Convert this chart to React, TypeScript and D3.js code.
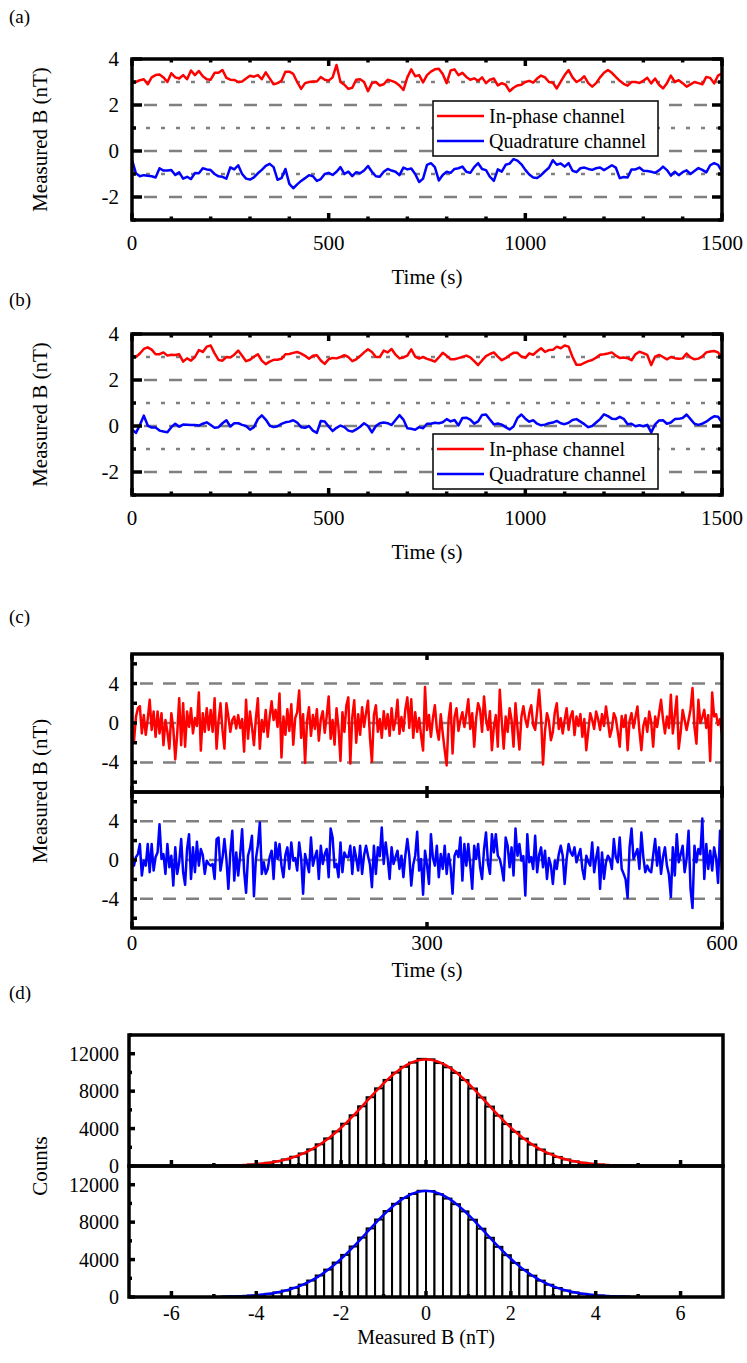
import React, { useEffect, useRef } from "react";
import * as d3 from "d3";

const WIDTH = 747;
const HEIGHT = 1363;
const FONT = "Liberation Serif, Times New Roman, serif";
const RED = "#ff0000";
const BLUE = "#0000ff";
const GRID = "#808080";

// (a) and (b): one reading every 10 s, 0..1500 s
const slowStep = 10;
const aInPhase = [
  2.94, 3.0, 3.08, 3.12, 2.9, 3.2, 3.3, 3.33, 3.2, 3.0,
  3.38, 3.2, 3.15, 3.3, 3.12, 3.5, 3.3, 3.48, 3.25, 3.12,
  3.1, 3.4, 3.4, 3.52, 3.18, 3.1, 3.09, 3.0, 3.02, 3.15,
  3.27, 3.23, 3.3, 3.12, 3.42, 3.16, 2.9, 2.95, 3.05, 3.45,
  3.45, 3.35, 3.0, 2.7, 2.95, 3.0, 3.02, 3.02, 3.22, 3.1,
  3.06, 3.2, 3.74, 3.0, 2.88, 2.7, 2.75, 3.1, 3.12, 3.0,
  2.6, 2.95, 3.0, 2.85, 2.9, 3.1, 3.05, 2.98, 2.85, 2.65,
  3.2, 3.55, 3.25, 3.3, 2.98, 3.3, 3.45, 3.55, 3.58, 3.35,
  2.95, 3.5, 3.55, 3.3, 3.4, 3.22, 3.1, 3.16, 3.05, 3.2,
  2.95, 3.1, 3.15, 2.85, 2.95, 2.88, 2.6, 2.75, 2.85, 2.88,
  3.0, 3.05, 2.97, 3.15, 3.28, 3.2, 3.0, 2.97, 2.72, 3.02,
  3.3, 3.52, 3.2, 3.0, 3.09, 3.25, 2.95, 2.8, 2.95, 3.2,
  3.4, 3.52, 3.4, 3.22, 3.05, 2.92, 2.84, 3.0, 3.0, 2.96,
  3.05, 3.18, 2.94, 3.15, 2.88, 2.72, 2.95, 3.28, 3.0, 3.08,
  2.95, 2.8, 2.9, 3.0, 2.95, 2.9, 3.22, 3.18, 2.94, 3.28,
  3.38,
];
const aQuadrature = [
  -0.39, -0.97, -1.1, -1.05, -1.08, -1.1, -1.15, -0.75, -0.85, -0.85,
  -0.83, -1.04, -0.93, -1.2, -1.12, -1.22, -0.96, -0.97, -0.75, -0.8,
  -0.83, -1.0, -1.1, -1.12, -1.2, -0.71, -0.8, -0.62, -1.0, -1.2,
  -1.24, -1.15, -0.97, -0.82, -0.65, -0.56, -0.7, -1.25, -1.18, -0.78,
  -1.43, -1.62, -1.45, -1.3, -1.18, -1.05, -1.1, -1.3, -1.22, -1.0,
  -0.95, -1.04, -0.9, -0.7, -1.0, -0.9, -1.09, -0.92, -0.97, -0.85,
  -0.65, -0.9, -1.1, -1.12, -0.9, -0.78, -0.85, -0.9, -1.05, -0.72,
  -0.8, -0.76, -1.0, -1.35, -1.2, -0.6, -0.53, -0.7, -1.28, -1.04,
  -0.9, -0.95, -0.78, -0.75, -0.68, -0.9, -0.95, -0.7, -0.53, -0.78,
  -0.83, -1.12, -1.3, -0.8, -0.9, -0.6, -0.55, -0.35, -0.42, -0.58,
  -0.82, -1.02, -1.15, -1.17, -1.05, -0.88, -0.73, -0.4, -0.6, -0.54,
  -0.68, -0.53, -0.86, -0.92, -0.75, -0.72, -0.78, -0.82, -0.75, -0.72,
  -0.83, -0.73, -0.62, -0.72, -1.18, -1.13, -1.15, -0.8, -0.8, -0.72,
  -0.86, -0.87, -0.9, -0.95, -0.84, -0.68, -0.83, -1.07, -0.9, -1.05,
  -0.92, -0.84, -1.0, -0.87, -0.74, -0.82, -0.93, -0.62, -0.53, -0.6,
  -0.9,
];
const bInPhase = [
  3.05, 3.0, 3.15, 3.35, 3.42, 3.32, 3.12, 3.12, 3.2, 3.06,
  3.1, 3.09, 3.12, 2.8, 2.94, 2.84, 3.0, 3.3, 3.22, 3.45,
  3.5, 3.16, 2.87, 2.84, 3.0, 2.98, 3.1, 3.28, 3.05, 2.82,
  2.88, 3.01, 3.12, 2.84, 2.69, 2.8, 2.88, 2.88, 2.92, 3.12,
  3.13, 3.18, 3.22, 3.15, 3.05, 2.92, 3.05, 3.08, 2.85, 2.7,
  2.9, 2.96, 2.94, 3.0, 3.08, 3.0, 2.82, 2.9, 3.04, 3.2,
  3.34, 3.22, 3.0, 3.0, 3.28, 3.2, 3.35, 3.1, 2.94, 2.98,
  3.06, 3.33, 3.02, 2.93, 3.0, 2.92, 2.87, 2.8, 2.98, 3.18,
  3.05, 2.9, 2.9, 2.95, 3.0, 3.06, 2.98, 2.82, 2.65, 2.85,
  3.04, 3.13, 3.2, 3.02, 2.86, 2.95, 3.08, 3.18, 3.18, 3.02,
  2.96, 3.16, 3.1, 3.25, 3.38, 3.22, 3.3, 3.31, 3.45, 3.38,
  3.5, 3.45, 3.0, 2.66, 2.66, 2.74, 2.82, 2.87, 2.97, 3.1,
  3.12, 3.15, 3.2, 3.06, 2.96, 2.98, 2.95, 2.86, 3.12, 3.23,
  3.17, 3.09, 2.65, 3.02, 3.09, 3.0, 2.9, 3.0, 2.95, 2.92,
  2.94, 3.15, 2.98, 2.9, 2.93, 3.03, 3.2, 3.24, 3.26, 3.2,
  2.98,
];
const bQuadrature = [
  -0.15, -0.3, 0.04, 0.45, 0.02, -0.07, -0.07, -0.2, -0.24, -0.27,
  -0.05, 0.1, -0.03, 0.06, 0.05, 0.04, 0.04, 0.02, 0.1, 0.16,
  0.04, -0.08, -0.05, 0.12, 0.25, -0.02, 0.12, 0.12, 0.05, 0.0,
  -0.16, -0.05, 0.3, 0.46, 0.28, 0.02, -0.05, -0.01, 0.09, 0.16,
  0.19, 0.25, 0.15, -0.05, -0.08, 0.0, -0.2, -0.3, 0.22, 0.2,
  -0.02, -0.22, -0.08, 0.02, -0.05, -0.2, -0.24, -0.15, -0.03, 0.12,
  0.0, -0.28, 0.0, 0.12, 0.15, 0.12, 0.04, 0.26, 0.47, 0.28,
  -0.1, -0.12, -0.16, -0.05, -0.1, 0.1, 0.1, 0.14, 0.12, 0.16,
  0.3, 0.2, 0.26, 0.02, 0.35, 0.36, 0.28, 0.1, 0.2, 0.48,
  0.5, 0.28, 0.07, 0.11, 0.06, -0.05, -0.15, -0.02, 0.35, 0.5,
  0.32, 0.19, 0.25, 0.1, 0.03, 0.06, 0.12, 0.15, 0.22, 0.12,
  0.08, 0.14, 0.26, 0.3, 0.19, 0.08, -0.05, 0.0, 0.15, 0.3,
  0.51, 0.43, 0.32, 0.3, 0.4, 0.31, 0.08, 0.1, -0.01, 0.03,
  -0.01, 0.05, -0.28, 0.07, 0.24, 0.25, 0.1, 0.15, 0.3, 0.31,
  0.35, 0.5, 0.3, 0.1, 0.05, 0.1, 0.19, 0.32, 0.42, 0.4,
  0.15,
];

// (c): one reading every 2 s, 0..600 s
const fastStep = 2;
const cInPhase = [
  0, -1.9, 0.6, 1.5, 1.7, -1.06, 0.8, -1.2, 0.4, 2.35,
  -0.7, 1.16, -1.4, 1.16, -1.06, 1.0, -2.25, 0.3, -0.9, -2.6,
  1.0, -0.55, -3.7, -1.06, 2.5, -2.25, 2.0, -2.4, 1.16, -0.4,
  1.5, -1.06, 0.5, -0.3, 3.1, -2.8, 1.0, -0.9, 1.5, -0.7,
  1.33, -0.9, 2.5, -2.6, 0.2, 2.0, -0.7, -2.6, 2.0, 0.65,
  -0.9, 0.3, 0.65, -0.55, 0.8, -0.5, 0.4, -2.9, 2.35, -1.6,
  1.16, -0.4, -2.25, 0.5, 2.5, -2.6, 0.3, -0.9, 1.33, -1.4,
  0.6, 2.2, 0.3, 1.33, -0.4, 3.0, -3.5, 0.65, -1.2, 1.4,
  -0.8, 1.9, -2.2, 0.5, 1.1, 3.3, -1.5, 0.9, -4.06, 0.2,
  1.6, -1.3, 0.8, -0.6, 1.4, -1.8, 0.4, 1.2, -1.0, 0.7,
  2.7, -1.6, 0.3, -2.2, 1.5, -0.5, -3.86, 1.1, -0.9, 1.8,
  2.6, -4.1, 0.6, 2.3, -2.0, 0.9, -1.2, 1.6, -0.4, 1.0,
  2.25, -1.5, -3.96, 0.8, 1.8, -0.9, 0.4, -1.5, 1.2, -0.6,
  0.9, -1.3, 1.5, -0.7, 0.3, 2.35, -1.1, 0.6, -0.8, 1.4,
  2.6, -0.5, 2.4, -1.5, 1.1, -0.9, 0.5, -1.3, -2.8, 3.65,
  -0.7, 0.8, -1.4, 0.5, 1.8, -0.6, -1.7, 0.9, -1.06, -2.76,
  -4.3, 0.4, 2.0, -3.1, 0.6, 1.5, -0.8, 0.3, 1.1, -0.4,
  0.9, 2.4, -0.6, 1.0, -2.4, 0.5, 2.0, 1.33, -0.9, 2.7,
  0.4, -0.7, 1.2, -2.76, -0.4, 0.8, -2.4, 3.38, 0.2, -2.6,
  0.65, -0.9, 1.5, 0.3, -2.4, 2.0, -0.5, -2.7, 0.6, 1.7,
  0.4, -0.4, 1.0, 1.8, -0.2, -0.7, 1.2, 3.38, 0.6, -4.2,
  -0.8, 1.0, 0.2, -1.74, -0.9, 1.1, 2.0, -0.6, 0.48, -1.06,
  0.3, 1.5, -0.7, 0.65, 1.2, -1.23, 0.65, -0.3, 0.9, -1.4,
  0.4, -2.76, -0.8, 1.0, 0.3, -0.6, 1.16, 0.4, -0.7, 0.9,
  -0.3, 1.67, 0.2, -1.4, -0.6, 1.0, 0.48, -0.9, -2.4, 0.7,
  -0.4, 0.8, -2.76, 0.2, 1.0, -0.5, 0.6, 1.67, -0.8, -2.76,
  -0.3, 0.48, -0.9, 1.16, 0.1, -2.4, 0.65, -0.4, 1.0, 2.35,
  0.4, -1.06, 0.65, -0.5, 2.87, -1.06, 0.8, 2.7, -2.6, -0.9,
  1.33, 0.3, -0.7, 0.3, 1.4, 3.55, -0.4, -2.1, 2.35, 0.0,
  0.6, 1.33, -0.5, 0.8, -3.86, 3.1, 0.65, 0.9, -0.2, 0.4,
  -1.23,
];
const cQuadrature = [
  0.44, -0.58, 0.3, 0.61, 1.64, -1.6, -0.07, -0.58, 1.64, -1.26,
  1.64, -1.09, 0.3, 0.78, 3.69, 0.1, 0.61, -1.43, 1.64, -0.75,
  0.44, -2.63, 1.3, -1.43, -0.24, 2.15, -1.26, -2.56, 1.13, 2.66,
  -1.95, 1.3, -1.26, 1.88, -0.58, 1.13, 0.5, -1.43, -0.07, -0.41,
  -0.58, -0.41, -1.95, 2.15, 2.32, -1.09, 0.2, 2.15, 0.1, -2.97,
  0.78, 3.0, -2.12, 0.78, -1.6, 0.5, 3.17, -1.09, -3.38, 0.44,
  1.2, 2.49, -3.72, 0.1, 1.5, 3.86, -1.43, -0.24, -1.43, -0.92,
  0.3, 0.96, -1.95, 1.81, 0.1, 1.64, -0.58, -1.77, 0.5, 1.3,
  -0.92, 1.81, -0.07, 0.2, -1.09, 1.81, 0.2, -3.48, 0.61, -0.3,
  -1.26, 2.32, -0.58, 0.3, 0.96, -1.95, 1.47, -0.41, 0.6, 1.13,
  -1.77, 3.24, 2.32, -0.75, -0.4, -1.77, 1.81, -1.26, 0.78, 0.3,
  0.27, 1.47, -1.43, 1.3, 0.2, -1.09, 1.47, -1.43, 0.5, 1.47,
  0.44, -0.5, -2.8, 1.47, -1.43, 1.3, 0.4, 3.35, -0.41, 1.81,
  0.2, -1.95, 1.3, -0.41, 0.3, 0.96, -0.92, 0.44, -1.77, 0.5,
  2.15, 0.44, -2.63, -0.5, 0.44, 2.9, -1.09, 0.1, -3.58, 0.96,
  -0.5, -2.46, 2.66, 0.2, -0.58, 1.47, -1.77, 0.61, -0.92, 1.47,
  -1.43, 0.61, -0.75, -3.48, 0.44, 0.96, 0.3, 2.32, -2.12, 1.64,
  -0.58, 1.64, -0.5, -2.97, 1.47, 0.1, 1.64, -0.75, -1.95, 1.13,
  2.83, -0.3, -1.43, 2.66, 0.78, 2.66, 0.44, 0.1, -0.8, -2.12,
  2.32, 1.47, -0.75, 1.3, -1.6, 3.24, 0.44, 1.64, -0.07, 0.4,
  -3.65, 2.66, -0.24, 0.3, -0.92, 2.49, -1.26, 0.5, 1.3, -0.75,
  0.96, -1.95, 0.2, -0.58, -2.46, -0.07, -0.92, 0.6, 1.47, 0.44,
  -2.46, 0.1, 1.64, 0.8, 0.44, 1.3, -0.24, 0.5, 1.13, -0.92,
  -1.95, 0.44, -0.2, -0.58, 1.81, -1.26, 0.2, 1.3, -2.97, 0.78,
  -1.95, -0.24, 0.44, 0.1, -0.92, 2.15, 0.3, -0.24, 2.32, -0.92,
  -1.43, -2.0, -3.9, 1.3, 3.24, 0.1, 0.6, 1.13, -0.92, 2.83,
  0.3, -1.26, -0.58, -1.09, -1.26, 0.5, 2.15, -0.58, 1.3, -1.43,
  0.3, 1.3, -0.58, -1.5, -3.82, 1.3, -1.6, 2.66, -0.24, 0.6,
  1.47, -1.26, 0.1, 3.0, -2.97, -4.95, 1.47, -0.24, 1.13, 0.6,
  4.27, -1.95, 1.64, -0.92, 0.96, -1.09, 1.3, 0.2, -2.36, 3.0,
  -0.92,
];

// (d): histogram counts, bins of 0.2 nT starting at -5 nT
const binStart = -5;
const binWidth = 0.2;
const dInPhaseCounts = [
  20, 35, 60, 95, 150, 230, 340, 500, 700, 990,
  1340, 1780, 2320, 2950, 3700, 4520, 5420, 6380, 7350, 8300,
  9200, 9980, 10600, 11050, 11450, 11400, 11000, 10550, 9950, 9180,
  8280, 7320, 6350, 5380, 4480, 3650, 2920, 2290, 1760, 1320,
  970, 700, 490, 340, 230, 150, 95, 60, 35, 20,
];
const dQuadratureCounts = [
  18, 32, 58, 92, 145, 225, 335, 490, 690, 980,
  1320, 1760, 2300, 2930, 3680, 4500, 5400, 6350, 7330, 8280,
  9180, 9960, 10580, 11020, 11350, 11330, 10980, 10520, 9920, 9150,
  8260, 7300, 6330, 5360, 4470, 3640, 2900, 2280, 1750, 1310,
  960, 690, 485, 335, 225, 148, 92, 58, 33, 19,
];
// Gaussian fit parameters [in-phase, quadrature]
const fitAmplitude = [11380, 11330];
const fitCenter = [0, 0];
const fitSigma = [1.4, 1.4];

const slowXTicks = [0, 500, 1000, 1500];
const slowYTicks = [-2, 0, 2, 4];
const fastXTicks = [0, 300, 600];
const fastYTicks = [-4, 0, 4];
const histXTicks = [-6, -4, -2, 0, 2, 4, 6];
const histYTicks = [0, 4000, 8000, 12000];
const legendLabels = ["In-phase channel", "Quadrature channel"];

export default function App() {
  const svgRef = useRef<SVGSVGElement>(null);

  useEffect(() => {
    const svg = d3.select(svgRef.current);
    svg.selectAll("*").remove();
    svg.append("rect").attr("width", WIDTH).attr("height", HEIGHT).attr("fill", "white");

    let clipId = 0;
    const clip = (x0: number, y0: number, x1: number, y1: number) => {
      const id = `clip-${clipId++}`;
      svg.append("clipPath").attr("id", id)
        .append("rect").attr("x", x0).attr("y", y0).attr("width", x1 - x0).attr("height", y1 - y0);
      return `url(#${id})`;
    };

    const label = (x: number, y: number, str: string, anchor = "middle", size = 21) =>
      svg.append("text")
        .attr("x", x).attr("y", y)
        .attr("text-anchor", anchor)
        .style("font-family", FONT)
        .style("font-size", `${size}px`)
        .attr("fill", "black")
        .text(str);

    const yTitle = (cy: number, str: string) =>
      svg.append("text")
        .attr("transform", `translate(47,${cy}) rotate(-90)`)
        .attr("text-anchor", "middle")
        .style("font-family", FONT)
        .style("font-size", "21px")
        .text(str);

    const hLine = (x0: number, x1: number, y: number, dash: string) =>
      svg.append("line")
        .attr("x1", x0).attr("x2", x1).attr("y1", y).attr("y2", y)
        .attr("stroke", GRID).attr("stroke-width", 2.5)
        .attr("stroke-dasharray", dash);

    const tick = (x1: number, y1: number, x2: number, y2: number) =>
      svg.append("line")
        .attr("x1", x1).attr("y1", y1).attr("x2", x2).attr("y2", y2)
        .attr("stroke", "black").attr("stroke-width", 3.5);

    const frame = (x0: number, y0: number, x1: number, y1: number) =>
      svg.append("rect")
        .attr("x", x0).attr("y", y0).attr("width", x1 - x0).attr("height", y1 - y0)
        .attr("fill", "none").attr("stroke", "black").attr("stroke-width", 3.5);

    const trace = (values: number[], step: number, x: any, y: any, color: string, clipUrl: string) => {
      const line = d3.line<number>().x((_, i) => x(i * step)).y(d => y(d));
      svg.append("path")
        .datum(values)
        .attr("d", line)
        .attr("clip-path", clipUrl)
        .attr("fill", "none")
        .attr("stroke", color)
        .attr("stroke-width", 2.5)
        .attr("stroke-linejoin", "round");
    };

    // ---------- panels (a) and (b) ----------
    const slowPanel = (top: number, bottom: number, inPhase: number[], quad: number[],
                       legendTop: number, tag: string, tagY: number) => {
      const x = d3.scaleLinear().domain([0, 1500]).range([132, 722]);
      const y = d3.scaleLinear().domain([-3, 4]).range([bottom, top]);
      const [x0, x1] = x.range();

      [-2, 0, 2].forEach(v => hLine(x0, x1, y(v), "13 12").attr("stroke-dashoffset", -12));
      [-1, 1, 3].forEach(v => hLine(x0, x1, y(v), "4 11").attr("stroke-dashoffset", -14));

      const cp = clip(x0, top, x1, bottom);
      trace(inPhase, slowStep, x, y, RED, cp);
      trace(quad, slowStep, x, y, BLUE, cp);

      d3.range(-3, 5).forEach(v => {
        const len = v % 2 === 0 ? 10 : 4;
        tick(x0, y(v), x0 + len, y(v));
        tick(x1, y(v), x1 - len, y(v));
      });
      d3.range(0, 1501, 100).forEach(t => {
        const len = t % 500 === 0 ? 7 : 3.5;
        tick(x(t), top, x(t), top + len);
        tick(x(t), bottom, x(t), bottom - len);
      });
      frame(x0, top, x1, bottom);

      // legend
      svg.append("rect")
        .attr("x", 433).attr("y", legendTop).attr("width", 225).attr("height", 55)
        .attr("fill", "white").attr("stroke", "black").attr("stroke-width", 1.5);
      [RED, BLUE].forEach((c, i) => {
        const ly = legendTop + 15 + i * 25;
        svg.append("line").attr("x1", 437).attr("x2", 484).attr("y1", ly).attr("y2", ly)
          .attr("stroke", c).attr("stroke-width", 2.5);
        label(489, ly + 7, legendLabels[i], "start", 20);
      });

      slowYTicks.forEach(v => label(119, y(v) + 7, String(v), "end"));
      slowXTicks.forEach(t => label(x(t), bottom + 30, String(t)));
      label((x0 + x1) / 2, bottom + 64, "Time (s)");
      yTitle((top + bottom) / 2, "Measured B (nT)");
      label(9, tagY, tag, "start", 19);
    };

    slowPanel(59, 220, aInPhase, aQuadrature, 101, "(a)", 23);
    slowPanel(334, 495, bInPhase, bQuadrature, 434, "(b)", 306);

    // ---------- panel (c) ----------
    {
      const x = d3.scaleLinear().domain([0, 600]).range([132, 722]);
      const [x0, x1] = x.range();
      const subs = [
        { top: 654, bottom: 792, values: cInPhase, color: RED },
        { top: 792, bottom: 928, values: cQuadrature, color: BLUE },
      ];
      subs.forEach(s => {
        const y = d3.scaleLinear().domain([-7, 7]).range([s.bottom, s.top]);
        [-4, 0, 4].forEach(v => hLine(x0, x1, y(v), "13 10").attr("stroke-dashoffset", -8));
        trace(s.values, fastStep, x, y, s.color, clip(x0, s.top, x1, s.bottom));
        d3.range(-6, 7, 2).forEach(v => tick(x0, y(v), x0 + 5, y(v)));
        fastXTicks.forEach(t => {
          tick(x(t), s.top, x(t), s.top + 6);
          tick(x(t), s.bottom, x(t), s.bottom - 6);
        });
        frame(x0, s.top, x1, s.bottom);
        fastYTicks.forEach(v => label(119, y(v) + 7, String(v), "end"));
      });
      fastXTicks.forEach(t => label(x(t), 950, String(t)));
      label((x0 + x1) / 2, 977, "Time (s)");
      yTitle(791, "Measured B (nT)");
      label(9, 623, "(c)", "start", 19);
    }

    // ---------- panel (d) ----------
    {
      const x = d3.scaleLinear().domain([-7, 7]).range([129, 723]);
      const [x0, x1] = x.range();
      const subs = [
        { top: 1035, bottom: 1166, counts: dInPhaseCounts, color: RED, k: 0 },
        { top: 1166, bottom: 1297, counts: dQuadratureCounts, color: BLUE, k: 1 },
      ];
      subs.forEach(s => {
        const y = d3.scaleLinear().domain([0, 14000]).range([s.bottom, s.top]);
        const cp = clip(x0, s.top, x1, s.bottom);
        svg.append("g").attr("clip-path", cp)
          .selectAll("rect")
          .data(s.counts)
          .join("rect")
          .attr("x", (_, i) => x(binStart + i * binWidth))
          .attr("width", (_, i) => x(binStart + (i + 1) * binWidth) - x(binStart + i * binWidth))
          .attr("y", d => y(d))
          .attr("height", d => y(0) - y(d))
          .attr("fill", "white")
          .attr("stroke", "black")
          .attr("stroke-width", 2);

        const amp = fitAmplitude[s.k], mu = fitCenter[s.k], sg = fitSigma[s.k];
        const xs = d3.range(-4.8, 4.801, 0.05);
        svg.append("path")
          .datum(xs)
          .attr("clip-path", cp)
          .attr("d", d3.line<number>().x(v => x(v)).y(v => y(amp * Math.exp(-((v - mu) ** 2) / (2 * sg * sg)))))
          .attr("fill", "none")
          .attr("stroke", s.color)
          .attr("stroke-width", 2.5);

        d3.range(0, 14001, 2000).forEach(v => {
          const len = v % 4000 === 0 ? 6 : 3;
          tick(x0, y(v), x0 + len, y(v));
        });
        d3.range(-6, 7, 1).forEach(v => {
          const len = v % 2 === 0 ? 6 : 3;
          tick(x(v), s.bottom, x(v), s.bottom - len);
        });
        frame(x0, s.top, x1, s.bottom);
        histYTicks.forEach(v => label(119, y(v) + 7, String(v), "end", 20));
      });
      histXTicks.forEach(v => label(x(v), 1320, String(v), "middle", 20));
      label((x0 + x1) / 2, 1344, "Measured B (nT)", "middle", 20);
      yTitle(1166, "Counts");
      label(9, 999, "(d)", "start", 19);
    }
  }, []);

  return (
    <svg
      ref={svgRef}
      width={WIDTH}
      height={HEIGHT}
      style={{ position: "absolute", left: 0, top: 0, display: "block" }}
    />
  );
}
